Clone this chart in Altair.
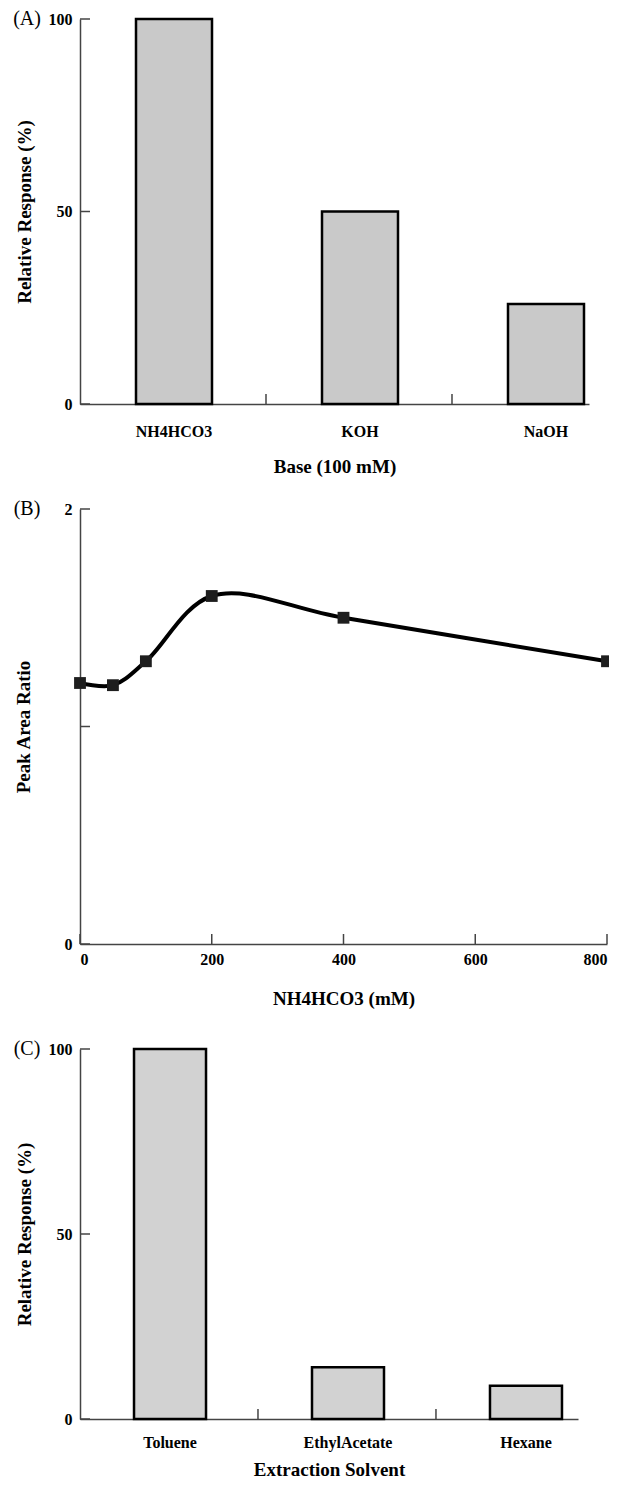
import altair as alt
import pandas as pd

# ---------------- data ----------------
base_cats = ["NH4HCO3", "KOH", "NaOH"]
base_resp = [100, 50, 26]

conc_mM = [0, 50, 100, 200, 400, 800]
peak_ratio = [1.2, 1.19, 1.3, 1.6, 1.5, 1.3]

solvents = ["Toluene", "EthylAcetate", "Hexane"]
solvent_resp = [100, 14, 9]

a_yticks = [0, 50, 100]
b_yticks = [0, 1, 2]
b_xticks = [0, 200, 400, 600, 800]
c_yticks = [0, 50, 100]

FONT = "Liberation Serif"
AX = "#444444"
LBL = 16
TTL = 19


def panel_label(txt):
    return alt.Chart(pd.DataFrame({"t": [txt]})).mark_text(
        font=FONT, fontSize=20, align="center", baseline="middle", color="black"
    ).encode(text="t:N", x=alt.value(-53), y=alt.value(0))


def bar_panel(cats, vals, yticks, label, xtitle, W, H, pad_inner, bar_w, off,
              fill, x_lpad, x_tpad, y_tpad):
    df = pd.DataFrame({"cat": cats, "val": vals})
    xscale = alt.Scale(domain=cats, paddingInner=pad_inner, paddingOuter=0)
    yscale = alt.Scale(domain=[0, 100], nice=False)
    xaxis = alt.Axis(
        title=xtitle, labelAngle=0, ticks=False, labelPadding=x_lpad,
        labelOffset=off, titlePadding=x_tpad, domainColor=AX, domainWidth=1.5,
        labelFontSize=LBL, titleFontSize=TTL)
    yaxis = alt.Axis(
        title="Relative Response (%)", values=yticks, ticks=False,
        labelPadding=8, titlePadding=y_tpad, domainColor=AX, domainWidth=1.5,
        labelFontSize=LBL, titleFontSize=TTL)
    bars = alt.Chart(df).mark_bar(
        width=bar_w, xOffset=off, fill=fill, stroke="black", strokeWidth=2.5
    ).encode(x=alt.X("cat:N", scale=xscale, axis=xaxis),
             y=alt.Y("val:Q", scale=yscale, axis=yaxis))
    xt = alt.Chart(pd.DataFrame({"cat": cats[1:]})).mark_rule(
        color=AX, strokeWidth=1.5
    ).encode(x=alt.X("cat:N", scale=xscale, bandPosition=0, axis=xaxis),
             y=alt.value(H - 10), y2=alt.value(H))
    yt = alt.Chart(pd.DataFrame({"val": yticks})).mark_rule(
        color=AX, strokeWidth=1.5
    ).encode(y=alt.Y("val:Q", scale=yscale, axis=yaxis),
             x=alt.value(0), x2=alt.value(10))
    return alt.layer(bars, xt, yt, panel_label(label)).properties(width=W, height=H)


# ---------------- panel A ----------------
panel_a = bar_panel(base_cats, base_resp, a_yticks, "(A)", "Base (100 mM)",
                    509, 385, 0.2634, 76, 25.5, "#c9c9c9", 19, 18.5, 13.5)

# ---------------- panel B ----------------
WB, HB = 527, 435
dfb = pd.DataFrame({"c": conc_mM, "r": peak_ratio})
xbs = alt.Scale(domain=[0, 800], nice=False)
ybs = alt.Scale(domain=[0, 2], nice=False)
xbaxis = alt.Axis(
    title="NH4HCO3 (mM)", values=b_xticks, ticks=False, labelPadding=7,
    labelFlush=True, labelFlushOffset=0, titlePadding=22, domainColor=AX,
    domainWidth=1.5, labelFontSize=LBL, titleFontSize=TTL)
ybaxis = alt.Axis(
    title="Peak Area Ratio", values=b_yticks, format="d", ticks=False, labelPadding=8,
    titlePadding=30.5, domainColor=AX, domainWidth=1.5, labelFontSize=LBL,
    titleFontSize=TTL)
line_b = alt.Chart(dfb).mark_line(
    interpolate="catmull-rom", color="black", strokeWidth=4
).encode(x=alt.X("c:Q", scale=xbs, axis=xbaxis),
         y=alt.Y("r:Q", scale=ybs, axis=ybaxis))
pts_b = alt.Chart(dfb).mark_square(size=140, color="#1e1e1e", opacity=1).encode(
    x=alt.X("c:Q", scale=xbs, axis=xbaxis), y=alt.Y("r:Q", scale=ybs, axis=ybaxis))
xt_b = alt.Chart(pd.DataFrame({"c": b_xticks})).mark_rule(
    color=AX, strokeWidth=1.5
).encode(x=alt.X("c:Q", scale=xbs, axis=xbaxis), y=alt.value(HB - 10), y2=alt.value(HB))
yt_b = alt.Chart(pd.DataFrame({"r": b_yticks})).mark_rule(
    color=AX, strokeWidth=1.5
).encode(y=alt.Y("r:Q", scale=ybs, axis=ybaxis), x=alt.value(0), x2=alt.value(10))
panel_b = alt.layer(line_b, pts_b, xt_b, yt_b, panel_label("(B)")).properties(
    width=WB, height=HB)

# ---------------- panel C ----------------
panel_c = bar_panel(solvents, solvent_resp, c_yticks, "(C)", "Extraction Solvent",
                    498, 370, 0.202, 72, 19, "#d2d2d2", 15, 10, 13.5)

chart = alt.vconcat(panel_a, panel_b, panel_c, spacing=105, bounds="flush").properties(
    padding={"left": 5, "top": 1, "right": -6, "bottom": 0}
).configure_view(stroke=None).configure_axis(
    labelFont=FONT, titleFont=FONT, labelFontWeight="bold", titleFontWeight="bold",
    labelColor="black", titleColor="black", grid=False
)

chart.save("out.html", embed_options={"renderer": "svg", "actions": False})
